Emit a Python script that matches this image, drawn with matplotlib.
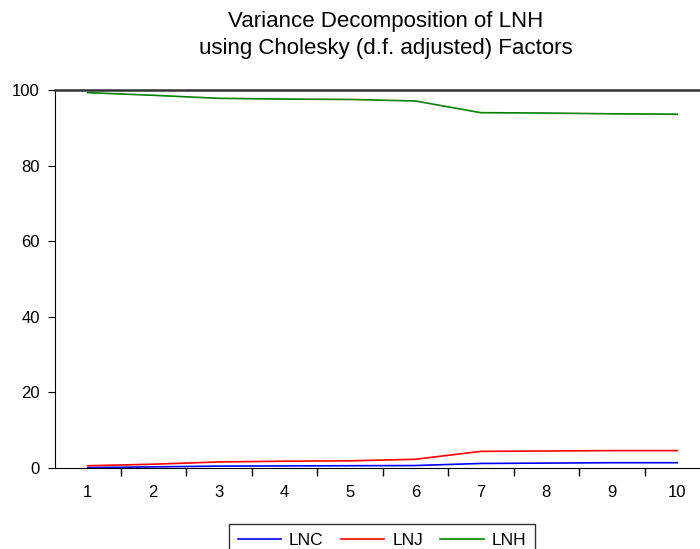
import numpy as np
import matplotlib
matplotlib.use('Agg')
import matplotlib.pyplot as plt
from matplotlib.ticker import FixedLocator

periods = [1, 2, 3, 4, 5, 6, 7, 8, 9, 10]
lnc = [0.1, 0.3, 0.5, 0.55, 0.6, 0.65, 1.2, 1.3, 1.4, 1.4]
lnj = [0.6, 1.0, 1.6, 1.8, 1.9, 2.3, 4.4, 4.5, 4.6, 4.6]
lnh = [99.3, 98.6, 97.8, 97.6, 97.5, 97.1, 94.0, 93.9, 93.7, 93.6]

plt.rcParams['font.family'] = ['Liberation Sans', 'DejaVu Sans']

fig = plt.figure(figsize=(7, 5.49), dpi=100)
ax = fig.add_axes([55 / 700, 81 / 549, 655 / 700, 378 / 549])

ax.plot(periods, lnc, color='#0000ff', lw=1.2, label='LNC')
ax.plot(periods, lnj, color='#ff0000', lw=1.2, label='LNJ')
ax.plot(periods, lnh, color='#008000', lw=1.2, label='LNH')

ax.set_xlim(0.5, 10.5)
ax.set_ylim(0, 100)
ax.set_xticks(periods)
ax.set_yticks([0, 20, 40, 60, 80, 100])
ax.xaxis.set_minor_locator(FixedLocator(np.arange(1.5, 10.5, 1)))
ax.tick_params(axis='x', which='major', length=0, pad=12, labelsize=12)
ax.tick_params(axis='x', which='minor', length=6, direction='out', width=1)
ax.tick_params(axis='y', which='major', length=5, direction='out', labelsize=12, pad=6)

ax.spines['right'].set_visible(False)
ax.spines['top'].set_color('#333333')
ax.spines['top'].set_linewidth(1.8)
ax.spines['left'].set_color('black')
ax.spines['bottom'].set_color('black')

fig.text(386 / 700, 0.960, 'Variance Decomposition of LNH', ha='center', va='center', fontsize=16)
fig.text(386 / 700, 0.911, 'using Cholesky (d.f. adjusted) Factors', ha='center', va='center', fontsize=16)

leg = fig.legend(loc='upper center', bbox_to_anchor=(382 / 700, 25 / 549), ncol=3,
                 frameon=True, fancybox=False, edgecolor='black', fontsize=12.5,
                 handlelength=2.5, handletextpad=0.45, columnspacing=1.0,
                 borderpad=0.5, borderaxespad=0)
leg.get_frame().set_linewidth(1.0)

fig.savefig('out.png', dpi=100)
